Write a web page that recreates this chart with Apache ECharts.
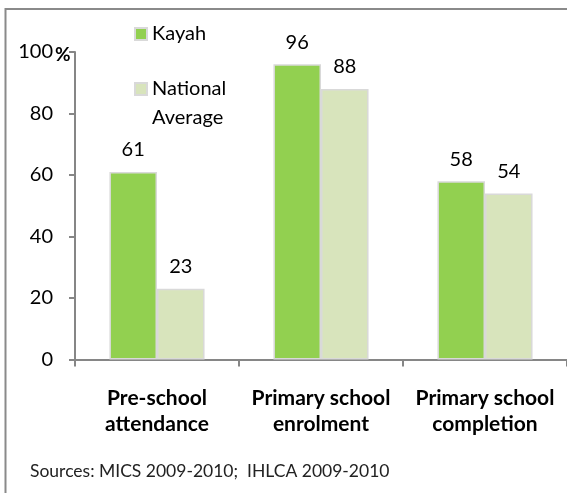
<!DOCTYPE html>
<html>
<head>
<meta charset="utf-8">
<script src="https://cdn.jsdelivr.net/npm/echarts@6/dist/echarts.min.js"></script>
<style>
html,body{margin:0;padding:0;background:#fff;}
#chart{width:567px;height:493px;}
</style>
</head>
<body>
<div id="chart"></div>
<script>
const categories = ['Pre-school\nattendance', 'Primary school\nenrolment', 'Primary school\ncompletion'];
const kayah = [61, 96, 58];
const national = [23, 88, 54];
const yTicks = [0, 20, 40, 60, 80, 100];
const seriesNames = ['Kayah', 'National Average'];
const sourceText = 'Sources: MICS 2009-2010;  IHLCA 2009-2010';

const FONT = 'Lato';
const chart = echarts.init(document.getElementById('chart'));
chart.setOption({
  animation: false,
  textStyle: {fontFamily: FONT},
  graphic: [
    {type: 'rect', shape: {x: 5.5, y: 9, width: 700, height: 700}, style: {fill: 'none', stroke: '#8a8a8a', lineWidth: 2}, silent: true, z: -1},
    {type: 'text', left: 30, top: 462, style: {text: sourceText, font: '17.5px ' + FONT, fill: '#222'}},
    {type: 'text', left: 55, top: 45, style: {text: '%', font: 'bold 19px ' + FONT, fill: '#000'}}
  ],
  legend: [
    {data: [seriesNames[0]], orient: 'vertical', left: 134, top: 19.5, padding: 0, itemWidth: 12, itemHeight: 12, itemGap: 0,
     icon: 'rect', textStyle: {fontSize: 20, lineHeight: 29, color: '#000', fontFamily: FONT}},
    {data: [seriesNames[1]], orient: 'vertical', left: 134, top: 45.5, padding: 0, itemWidth: 12, itemHeight: 12, itemGap: 0,
     icon: 'rect', formatter: function () { return ' \nNational\nAverage'; },
     textStyle: {fontSize: 20, lineHeight: 29, color: '#000', fontFamily: FONT}}
  ],
  grid: {left: 75, top: 52, width: 496.5, height: 307.5, containLabel: false},
  xAxis: {
    type: 'category',
    data: categories,
    axisLine: {lineStyle: {color: '#868686', width: 2}},
    axisTick: {show: true, length: 7, lineStyle: {color: '#868686', width: 2}},
    axisLabel: {color: '#000', fontSize: 21, fontWeight: 'bold', lineHeight: 26, margin: 26, interval: 0, fontFamily: FONT},
    splitLine: {show: false}
  },
  yAxis: {
    type: 'value',
    min: yTicks[0],
    max: yTicks[yTicks.length - 1],
    interval: 20,
    axisLine: {show: true, lineStyle: {color: '#868686', width: 2}},
    axisTick: {show: true, length: 6, lineStyle: {color: '#868686', width: 2}},
    axisLabel: {color: '#000', fontSize: 20, margin: 22, fontFamily: FONT},
    splitLine: {show: false}
  },
  series: [
    {
      name: seriesNames[0], type: 'bar', data: kayah,
      barGap: '0%', barCategoryGap: '42%',
      itemStyle: {color: '#92d050', borderColor: '#d9d9d9', borderWidth: 1.5},
      label: {show: true, position: 'top', distance: 12, fontSize: 20, color: '#000', fontFamily: FONT}
    },
    {
      name: seriesNames[1], type: 'bar', data: national,
      barGap: '0%', barCategoryGap: '42%',
      itemStyle: {color: '#d8e4bc', borderColor: '#d9d9d9', borderWidth: 1.5},
      label: {show: true, position: 'top', distance: 12, fontSize: 20, color: '#000', fontFamily: FONT}
    }
  ]
});
</script>
</body>
</html>
